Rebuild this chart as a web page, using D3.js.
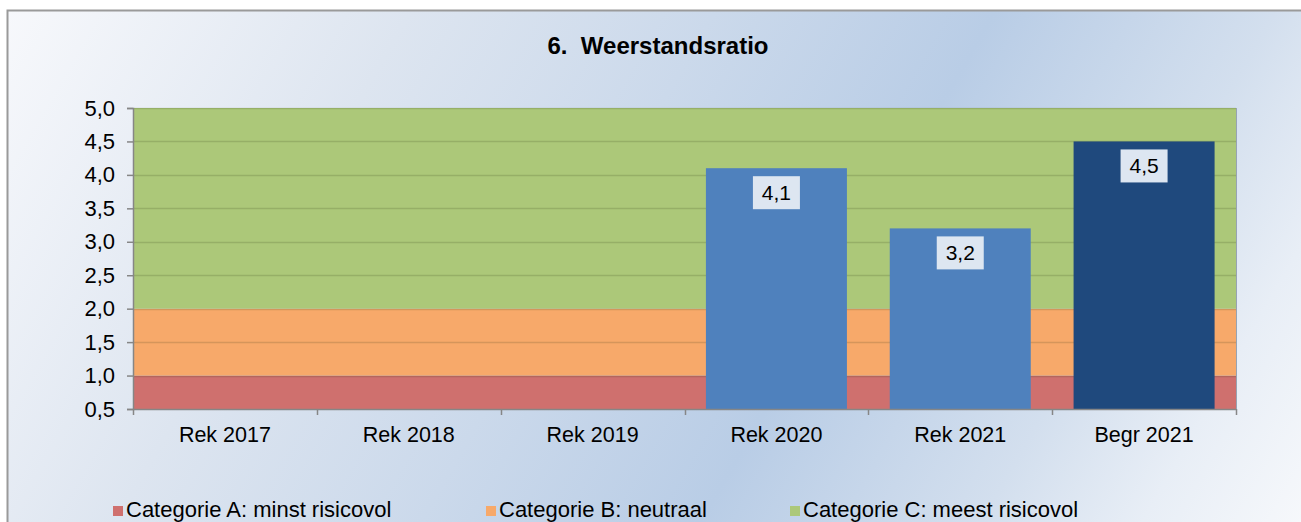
<!DOCTYPE html>
<html>
<head>
<meta charset="utf-8">
<script src="https://cdn.jsdelivr.net/npm/d3@7"></script>
<style>
  html, body { margin: 0; padding: 0; background: #ffffff; }
  svg { display: block; }
  text { font-family: "Liberation Sans", Arial, sans-serif; fill: #000; }
</style>
</head>
<body>
<svg id="chart" width="1301" height="522"></svg>
<script>
// Categories along the x axis
const categories = ["Rek 2017", "Rek 2018", "Rek 2019", "Rek 2020", "Rek 2021", "Begr 2021"];
// Weerstandsratio per year (no figure for the first three years)
const ratioValues = [null, null, null, 4.1, 3.2, 4.5];
// Bar fill per year: realised figures in blue, budget in dark blue
const barColors = ["#4f81bd", "#4f81bd", "#4f81bd", "#4f81bd", "#4f81bd", "#1f497d"];

// Risk bands in the background
const bandNames = ["Categorie A: minst risicovol", "Categorie B: neutraal", "Categorie C: meest risicovol"];
const bandLower = [0.5, 1.0, 2.0];
const bandUpper = [1.0, 2.0, 5.0];
const bandColors = ["#cf706e", "#f7a96a", "#acc879"];

// Y axis tick values
const yTicks = [0.5, 1.0, 1.5, 2.0, 2.5, 3.0, 3.5, 4.0, 4.5, 5.0];

const svg = d3.select("#chart");
const W = 1301, H = 522;
const plot = { left: 133, right: 1236, top: 108, bottom: 409 };

const fmt = v => d3.format(".1f")(v).replace(".", ",");

// Background gradient of the chart area
const defs = svg.append("defs");
const grad = defs.append("linearGradient")
  .attr("id", "bg")
  .attr("gradientUnits", "userSpaceOnUse")
  .attr("x1", 0).attr("y1", 0)
  .attr("x2", 1203).attr("y2", 694);
[[0, "#f8f9fc"], [0.26, "#dde5f0"], [0.45, "#cbd9eb"], [0.625, "#b9cde6"],
 [0.8, "#d3dfee"], [0.9, "#e8eef6"], [1, "#f6f8fb"]]
  .forEach(([o, c]) => grad.append("stop").attr("offset", o).attr("stop-color", c));

svg.append("rect")
  .attr("x", 7.5).attr("y", 10.5)
  .attr("width", W + 20).attr("height", H + 20)
  .attr("fill", "url(#bg)")
  .attr("stroke", "#9a9a9a")
  .attr("stroke-width", 2);

// Title
svg.append("text")
  .attr("x", 658).attr("y", 54)
  .attr("text-anchor", "middle")
  .attr("font-size", 24)
  .attr("font-weight", "bold")
  .style("white-space", "pre")
  .attr("xml:space", "preserve")
  .text("6.  Weerstandsratio");

// Scales
const x = d3.scaleBand()
  .domain(categories)
  .range([plot.left, plot.right])
  .paddingInner(0.233)
  .paddingOuter(0.1165);

const y = d3.scaleLinear()
  .domain([0.5, 5.0])
  .range([plot.bottom, plot.top]);

// Risk bands
svg.append("g").selectAll("rect")
  .data(bandLower)
  .join("rect")
  .attr("x", plot.left)
  .attr("width", plot.right - plot.left)
  .attr("y", (d, i) => y(bandUpper[i]))
  .attr("height", (d, i) => y(d) - y(bandUpper[i]))
  .attr("fill", (d, i) => bandColors[i]);

// Horizontal gridlines
svg.append("g").selectAll("line")
  .data(yTicks.filter(t => t > 0.5))
  .join("line")
  .attr("x1", plot.left).attr("x2", plot.right)
  .attr("y1", d => Math.round(y(d)) + 0.5)
  .attr("y2", d => Math.round(y(d)) + 0.5)
  .attr("stroke", "rgba(40,50,10,0.16)")
  .attr("stroke-width", 1.5);

// Bars
const barData = categories.map((c, i) => ({ cat: c, value: ratioValues[i], color: barColors[i] }))
  .filter(d => d.value !== null);

svg.append("g").selectAll("rect")
  .data(barData)
  .join("rect")
  .attr("x", d => x(d.cat))
  .attr("width", x.bandwidth())
  .attr("y", d => y(d.value))
  .attr("height", d => y(0.5) - y(d.value))
  .attr("fill", d => d.color);

// Value labels in boxes just inside the bar tops
const labels = svg.append("g").selectAll("g")
  .data(barData)
  .join("g")
  .attr("transform", d => `translate(${x(d.cat) + x.bandwidth() / 2},${y(d.value) + 8})`);

labels.append("rect")
  .attr("x", -23.5).attr("y", 0)
  .attr("width", 47).attr("height", 33)
  .attr("fill", "#dde6f1");

labels.append("text")
  .attr("x", 0).attr("y", 24)
  .attr("text-anchor", "middle")
  .attr("font-size", 21)
  .text(d => fmt(d.value));

// Plot area right edge
svg.append("line")
  .attr("x1", plot.right + 0.5).attr("x2", plot.right + 0.5)
  .attr("y1", plot.top).attr("y2", plot.bottom)
  .attr("stroke", "#97a3b3").attr("stroke-width", 1);

// Y axis
const yAxis = d3.axisLeft(y)
  .tickValues(yTicks)
  .tickSize(6)
  .tickPadding(12)
  .tickFormat(fmt);

const gy = svg.append("g")
  .attr("transform", `translate(${plot.left},0)`)
  .call(yAxis);
gy.select(".domain").attr("stroke", "#868686").attr("stroke-width", 1.5);
gy.selectAll(".tick line").attr("stroke", "#868686").attr("stroke-width", 1.5);
gy.selectAll(".tick text")
  .attr("font-size", 22)
  .attr("font-family", "Liberation Sans, Arial, sans-serif")
  .attr("fill", "#000");

// X axis: line with ticks at the band boundaries
const gx = svg.append("g");
gx.append("line")
  .attr("x1", plot.left).attr("x2", plot.right)
  .attr("y1", plot.bottom + 0.5).attr("y2", plot.bottom + 0.5)
  .attr("stroke", "#868686").attr("stroke-width", 1.5);

const boundaries = categories.map(c => x(c) - x.step() * x.paddingInner() / 2).concat([plot.right]);
gx.selectAll("line.tick")
  .data(boundaries)
  .join("line")
  .attr("class", "tick")
  .attr("x1", d => Math.round(d) + 0.5).attr("x2", d => Math.round(d) + 0.5)
  .attr("y1", plot.bottom).attr("y2", plot.bottom + 6)
  .attr("stroke", "#868686").attr("stroke-width", 1.5);

gx.selectAll("text")
  .data(categories)
  .join("text")
  .attr("x", d => x(d) + x.bandwidth() / 2)
  .attr("y", 442)
  .attr("text-anchor", "middle")
  .attr("font-size", 21.5)
  .text(d => d);

// Legend
const legendX = [113, 486, 790];
const legend = svg.append("g").selectAll("g")
  .data(bandNames)
  .join("g")
  .attr("transform", (d, i) => `translate(${legendX[i]},0)`);

legend.append("rect")
  .attr("x", 0).attr("y", 506)
  .attr("width", 10).attr("height", 10)
  .attr("fill", (d, i) => bandColors[i]);

legend.append("text")
  .attr("x", 13).attr("y", 517)
  .attr("font-size", 22)
  .text(d => d);
</script>
</body>
</html>
